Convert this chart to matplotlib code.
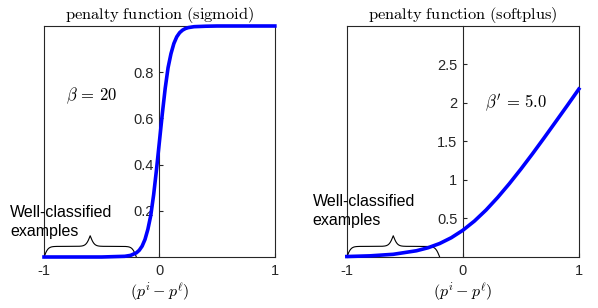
import numpy as np
import matplotlib.pyplot as plt

plt.rcParams['mathtext.fontset'] = 'cm'
plt.rcParams['font.family'] = ['Liberation Sans', 'DejaVu Sans']

# sigmoid penalty (beta = 20)
x_sig = [-1, -0.5, -0.3, -0.25, -0.2, -0.175, -0.15, -0.125, -0.1, -0.075,
         -0.05, -0.025, 0, 0.025, 0.05, 0.075, 0.1, 0.125, 0.15, 0.175,
         0.2, 0.225, 0.25, 0.3, 0.4, 0.5, 1]
y_sig = [0, 0.0, 0.003, 0.007, 0.018, 0.029, 0.047, 0.076, 0.12, 0.18,
         0.27, 0.38, 0.5, 0.62, 0.73, 0.82, 0.88, 0.924, 0.953, 0.971,
         0.982, 0.989, 0.993, 0.997, 0.999, 1.0, 1.0]

# softplus penalty (beta' = 5.0)
x_sp = [-1, -0.8, -0.6, -0.4, -0.3, -0.2, -0.1, 0, 0.1, 0.2, 0.3, 0.4,
        0.5, 0.6, 0.7, 0.8, 0.9, 1]
y_sp = [0.006, 0.015, 0.035, 0.081, 0.12, 0.175, 0.25, 0.347, 0.467, 0.61,
        0.773, 0.951, 1.141, 1.34, 1.546, 1.756, 1.967, 2.181]

xticks = [-1, 0, 1]
xticklabels = ['-1', '0', '1']
yticks_sig = [0.2, 0.4, 0.6, 0.8]
yticks_sp = [0.5, 1, 1.5, 2, 2.5]

axcol = '#262626'


def brace(ax, x0, x1, h):
    # curly brace above the x axis, x in data, height in axes fraction
    xs = np.linspace(x0, x1, 301)
    t = xs[:151]
    b = 45.0 / (x1 - x0)
    half = 1 / (1 + np.exp(-b * (t - t[0]))) + 1 / (1 + np.exp(-b * (t - t[-1])))
    ys = np.concatenate((half, half[-2::-1]))
    ys = (ys - ys[0]) / (ys.max() - ys[0]) * h
    ax.plot(xs, ys, color='k', lw=0.8, clip_on=False,
            transform=ax.get_xaxis_transform(), zorder=2)


def setup(ax, title, yticks, ylim):
    ax.set_xlim(-1, 1)
    ax.set_ylim(*ylim)
    ax.spines['left'].set_position(('data', 0))
    for s in ax.spines.values():
        s.set_color(axcol)
        s.set_linewidth(0.8)
    ax.plot([0, 0], [0, 1], color=axcol, lw=0.8, transform=ax.transAxes,
            clip_on=False)
    ax.set_xticks(xticks)
    ax.set_xticklabels(xticklabels)
    ax.set_yticks(yticks)
    ax.set_yticklabels([f'{v:g}' for v in yticks])
    ax.tick_params(direction='in', length=3, width=0.8, colors=axcol,
                   labelsize=10.5, pad=5)
    ax.tick_params(axis='y', pad=4)
    ax.set_title(r'$\mathrm{' + title.replace(' ', r'\ ') + '}$',
                 fontsize=11.8, pad=5)
    ax.set_xlabel(r'$(p^i - p^\ell)$', fontsize=11.5, labelpad=2)


fig = plt.figure(figsize=(5.98, 3.08), dpi=100)
ax1 = fig.add_axes([0.0736, 0.1656, 0.386, 0.75])
ax2 = fig.add_axes([0.580, 0.1656, 0.388, 0.75])

setup(ax1, 'penalty function (sigmoid)', yticks_sig, (0, 1))
setup(ax2, 'penalty function (softplus)', yticks_sp, (0, 3))

brace(ax1, -1, -0.2, 0.092)
brace(ax2, -1, -0.2, 0.092)

ax1.plot(x_sig, y_sig, color='#0000ff', lw=2.6, zorder=3, clip_on=False)
ax2.plot(x_sp, y_sp, color='#0000ff', lw=2.6, zorder=3, clip_on=False)

ax1.text(-0.59, 0.70, r'$\beta\,=\,20$', fontsize=12, ha='center', va='center')
ax2.text(0.46, 2.0, r"$\beta'\,=\,5.0$", fontsize=12, ha='center', va='center')

ax1.text(-1.295, 0.15, 'Well-classified\nexamples', fontsize=11.5,
         ha='left', va='center', linespacing=1.35)
ax2.text(-1.293, 0.60, 'Well-classified\nexamples', fontsize=11.5,
         ha='left', va='center', linespacing=1.35)

fig.savefig('out.png', dpi=100)
